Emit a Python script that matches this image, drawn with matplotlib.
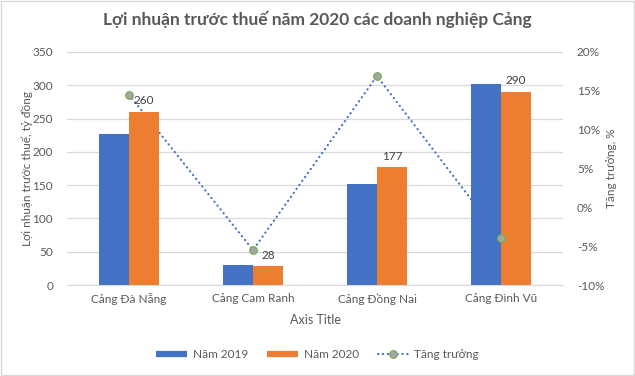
import numpy as np
import matplotlib
matplotlib.use("Agg")
import matplotlib.pyplot as plt
from matplotlib.lines import Line2D
from matplotlib.ticker import FuncFormatter

plt.rcParams['font.family'] = ['Lato', 'DejaVu Sans']

# data
ports = ["Cảng Đà Nẵng", "Cảng Cam Ranh", "Cảng Đồng Nai", "Cảng Đình Vũ"]
nam_2019 = [227, 30, 151, 302]
nam_2020 = [260, 28, 177, 290]
tang_truong = [14.5, -5.5, 16.9, -4.0]  # %

BLUE = "#4472C4"
ORANGE = "#ED7D31"
GREY_TXT = "#595959"
GRID = "#D9D9D9"
DOTS = (0, (0.1, 2.1))

fig = plt.figure(figsize=(6.35, 3.76), dpi=100)
W, H = 635, 376
ax = fig.add_axes([67 / W, (H - 285) / H, 496 / W, 233 / H])
ax2 = ax.twinx()

x = np.arange(len(ports))
bw = 0.24
b1 = ax.bar(x - bw / 2, nam_2019, bw, color=BLUE, zorder=2, label="Năm 2019")
b2 = ax.bar(x + bw / 2, nam_2020, bw, color=ORANGE, zorder=2, label="Năm 2020")
ax.bar_label(b2, labels=[str(v) for v in nam_2020], padding=4,
             fontsize=8.5, color="#404040")

ax.set_xlim(-0.5, len(ports) - 0.5)
ax.set_ylim(0, 350)
ax.set_yticks(np.arange(0, 351, 50))
ax.grid(axis="y", color=GRID, lw=0.9, zorder=0)
ax.set_axisbelow(True)
ax2.set_ylim(-10, 20)
ax2.set_yticks(np.arange(-10, 21, 5))
ax2.yaxis.set_major_formatter(FuncFormatter(lambda v, p: f"{v:.0f}%"))

# growth line behind bars, markers on top (both in secondary-axis units)
ax.plot(x, tang_truong, transform=ax2.transData, color=BLUE, lw=1.6,
        ls=DOTS, dash_capstyle="round", zorder=1)
ax.plot(x, tang_truong, transform=ax2.transData, ls="none", marker="o",
        ms=5.5, mfc="#A5A5A5", mec="#70AD47", mew=0.8, zorder=4)
ax.set_ylim(0, 350)

for a in (ax, ax2):
    for s in a.spines.values():
        s.set_visible(False)
    a.tick_params(length=0, colors=GREY_TXT, labelsize=8.5)
ax.spines["bottom"].set_visible(True)
ax.spines["bottom"].set_color(GRID)
ax.set_xticks(x)
ax.set_xticklabels(ports)
ax.tick_params(axis="x", pad=6)
ax.tick_params(axis="y", pad=10)
ax2.tick_params(axis="y", pad=10)

ax.set_xlabel("Axis Title", color=GREY_TXT, fontsize=9, labelpad=6)
ax.set_ylabel("Lợi nhuận trước thuế, tỷ đồng", color=GREY_TXT, fontsize=8.5)
ax2.set_ylabel("Tăng trưởng, %", color=GREY_TXT, fontsize=8.5)
ax.yaxis.set_label_coords(-0.069, 0.5)
ax2.yaxis.set_label_coords(1.087, 0.5)

fig.suptitle("Lợi nhuận trước thuế năm 2020 các doanh nghiệp Cảng",
             y=(H - 20) / H, va="center", fontsize=12.5, fontweight="bold",
             color=GREY_TXT)

handles = [
    Line2D([], [], color=BLUE, lw=4.5, solid_capstyle="butt"),
    Line2D([], [], color=ORANGE, lw=4.5, solid_capstyle="butt"),
    Line2D([], [], color=BLUE, lw=1.6, ls=DOTS,
           dash_capstyle="round", marker="o", ms=5.5, mfc="#A5A5A5",
           mec="#70AD47", mew=0.8),
]
fig.legend(handles, ["Năm 2019", "Năm 2020", "Tăng trưởng"], loc="center",
           bbox_to_anchor=(0.5, (H - 355) / H), ncol=3, frameon=False,
           fontsize=8.5, labelcolor=GREY_TXT, handlelength=2.6,
           columnspacing=1.6, handletextpad=0.5)

# chart border
fig.patches.append(plt.Rectangle((0.001, 0.002), 0.997, 0.996,
                                 transform=fig.transFigure, fill=False,
                                 ec=GRID, lw=1))

fig.savefig("out.png", dpi=100)
